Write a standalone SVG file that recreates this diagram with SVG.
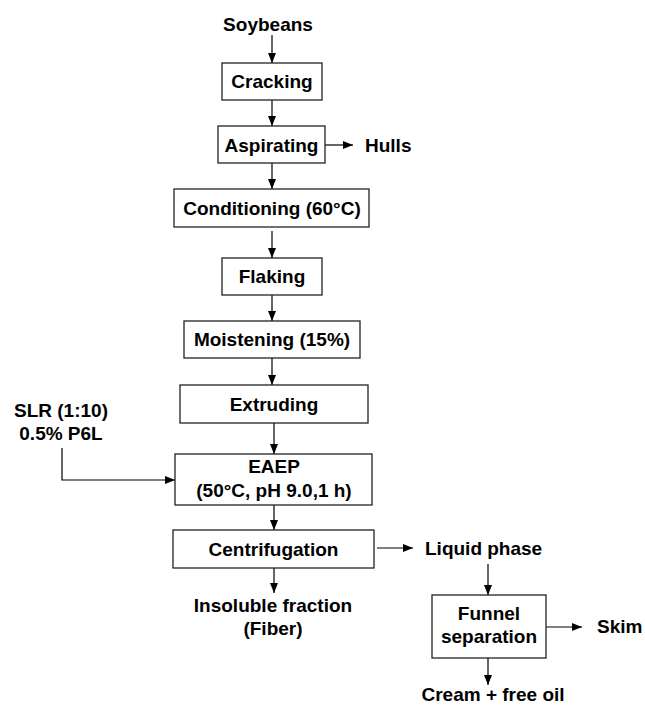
<svg xmlns="http://www.w3.org/2000/svg" width="645" height="707" viewBox="0 0 645 707">
<defs>
<marker id="ah" markerUnits="userSpaceOnUse" markerWidth="10" markerHeight="10" viewBox="0 0 10 10" refX="10" refY="5" orient="auto">
<path d="M0,1 L10,5 L0,9 Z" fill="#000"/>
</marker>
</defs>
<style>
text{font-family:"Liberation Sans",Arial,sans-serif;font-weight:bold;font-size:19px;fill:#000}
.c{text-anchor:middle}
.box{fill:#fff;stroke:#222;stroke-width:1.3}
.cn line,.cn path{stroke:#000;stroke-width:1.2;fill:none;marker-end:url(#ah)}
</style>
<rect x="0" y="0" width="645" height="707" style="fill:#fff;stroke:none"/>
<g id="connectors" class="cn">
<line x1="272" y1="35" x2="272" y2="63"/>
<line x1="272" y1="100" x2="272" y2="126"/>
<line x1="272" y1="163" x2="272" y2="189"/>
<line x1="272" y1="231" x2="272" y2="258"/>
<line x1="272" y1="295" x2="272" y2="321"/>
<line x1="272" y1="358" x2="272" y2="385"/>
<line x1="274" y1="423" x2="274" y2="454"/>
<line x1="274" y1="505" x2="274" y2="530"/>
<line x1="274" y1="568" x2="274" y2="593"/>
<line x1="325" y1="145" x2="353" y2="145"/>
<line x1="377" y1="548" x2="413" y2="548"/>
<line x1="488" y1="564" x2="488" y2="595"/>
<line x1="546" y1="627" x2="582" y2="627"/>
<line x1="488" y1="658" x2="488" y2="685"/>
<path d="M62,448 V480 H175"/>
</g>
<g id="soybeans"><text class="c" x="268" y="31">Soybeans</text></g>
<g id="cracking"><rect class="box" x="222" y="63" width="100" height="37"/><text class="c" x="272" y="88">Cracking</text></g>
<g id="aspirating"><rect class="box" x="218" y="126" width="107" height="37"/><text class="c" x="271.5" y="151.5">Aspirating</text></g>
<g id="hulls"><text x="365" y="152">Hulls</text></g>
<g id="conditioning"><rect class="box" x="174" y="189" width="195" height="38"/><text class="c" x="272" y="214.5">Conditioning (60°C)</text></g>
<g id="flaking"><rect class="box" x="222" y="258" width="100" height="37"/><text class="c" x="272" y="283">Flaking</text></g>
<g id="moistening"><rect class="box" x="184" y="321" width="176" height="37"/><text class="c" x="272" y="346">Moistening (15%)</text></g>
<g id="extruding"><rect class="box" x="180" y="385" width="188" height="38"/><text class="c" x="274" y="410.5">Extruding</text></g>
<g id="slr"><text class="c" x="61" y="417">SLR (1:10)</text><text class="c" x="61" y="440">0.5% P6L</text></g>
<g id="eaep"><rect class="box" x="175" y="454" width="197" height="51"/><text class="c" x="274" y="473">EAEP</text><text class="c" x="274" y="497">(50°C, pH 9.0,1 h)</text></g>
<g id="centrifugation"><rect class="box" x="173" y="530" width="201" height="38"/><text class="c" x="273.5" y="555.5">Centrifugation</text></g>
<g id="liquid"><text x="425" y="555">Liquid phase</text></g>
<g id="insoluble"><text class="c" x="273" y="612">Insoluble fraction</text><text class="c" x="273" y="635">(Fiber)</text></g>
<g id="funnel"><rect class="box" x="432" y="595" width="114" height="63"/><text class="c" x="489" y="620">Funnel</text><text class="c" x="489" y="643">separation</text></g>
<g id="skim"><text x="597" y="633">Skim</text></g>
<g id="cream"><text class="c" x="493" y="701">Cream + free oil</text></g>
</svg>
